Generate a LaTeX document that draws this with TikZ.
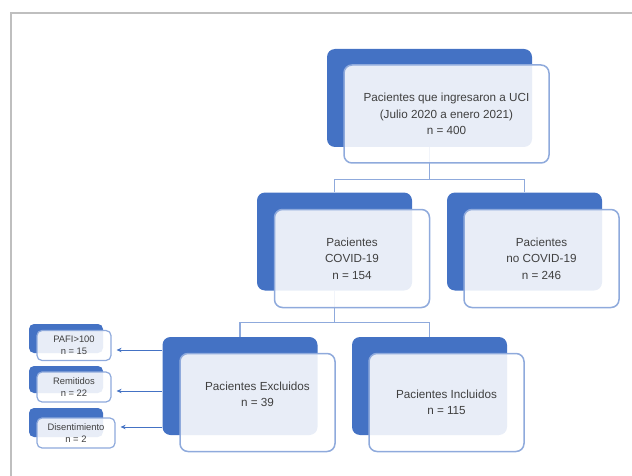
\documentclass[tikz,border=0pt]{standalone}
\usepackage{fontspec}
\setmainfont{Liberation Sans}
\usetikzlibrary{positioning, arrows.meta, calc}
\definecolor{darkblue}{HTML}{4472C4}
\definecolor{lightblue}{HTML}{8FAADC}
\definecolor{framegray}{HTML}{BFBFBF}
\definecolor{textgray}{HTML}{404040}

\begin{document}
\begin{tikzpicture}[
        x=1pt, y=-1pt,
        back/.style={rectangle, rounded corners=8pt, fill=darkblue, minimum width=155pt, minimum height=98pt, inner sep=0pt},
        front/.style={rectangle, rounded corners=8pt, draw=lightblue, line width=1.5pt, fill=white, fill opacity=0.88, text opacity=1, text=textgray, align=center, minimum width=155pt, minimum height=98pt, font=\fontsize{11.7}{16.5}\selectfont},
        smallback/.style={back, rounded corners=5pt, minimum width=74pt, minimum height=29pt},
        smallfront/.style={front, rounded corners=5pt, line width=1.2pt, minimum width=74pt, minimum height=30pt, inner sep=1pt, font=\fontsize{9.4}{12.5}\selectfont},
        conn/.style={draw=lightblue, line width=1.3pt},
        arrow/.style={-{Stealth[length=5pt, width=4.5pt]}, draw=darkblue, line width=1pt, shorten >=5pt}
    ]

    \useasboundingbox (0,0) rectangle (632,476);
    \draw[framegray, line width=2pt] (632,13) -- (11,13) -- (11,476);

    % Back boxes
    \node [back, minimum width=205pt] (topb) at (429.5,98) {};
    \node [back] (covidb) at (334.5,241.5) {};
    \node [back] (nocovidb) at (524.5,241.5) {};
    \node [back] (exclb) at (240,386) {};
    \node [back] (inclb) at (429.5,386) {};
    \node [smallback] (pafib) at (66,338.5) {};
    \node [smallback, minimum height=27pt] (remb) at (66,379.5) {};
    \node [smallback] (disb) at (66,422.5) {};

    % Connectors
    \draw[conn] (topb.south) -- ++(0,32) coordinate (split1) -| (covidb.north);
    \draw[conn] (split1) -| (nocovidb.north);
    \draw[conn] (covidb.south) -- ++(0,32) coordinate (split2) -| (exclb.north);
    \draw[conn] (split2) -| (inclb.north);

    % Front boxes
    \node [front, minimum width=205pt] (topf) at ([xshift=17pt, yshift=-16pt]topb.center) {Pacientes que ingresaron a UCI\\(Julio 2020 a enero 2021)\\n = 400};
    \node [front] (covidf) at ([xshift=17.5pt, yshift=-17pt]covidb.center) {Pacientes\\COVID-19\\n = 154};
    \node [front] (nocovidf) at ([xshift=17pt, yshift=-17pt]nocovidb.center) {Pacientes\\no COVID-19\\n = 246};
    \node [front] (exclf) at ([xshift=17.5pt, yshift=-16.5pt]exclb.center) {Pacientes Excluidos\\n = 39\\ \mbox{}};
    \node [front] (inclf) at ([xshift=17pt, yshift=-16.5pt]inclb.center) {Pacientes Incluidos\\n = 115};
    \node [smallfront] (pafif) at ([xshift=8pt, yshift=-7pt]pafib.center) {PAFI>100\\n = 15};
    \node [smallfront] (remf) at ([xshift=8pt, yshift=-7.5pt]remb.center) {Remitidos\\n = 22};
    \node [smallfront, minimum width=78pt] (disf) at ([xshift=10pt, yshift=-10.5pt]disb.center) {Disentimiento\\n = 2};

    % Arrows
    \draw[arrow] ($(exclb.west |- pafif.east)+(0,4.5)$) -- ($(pafif.east)+(0,4.5)$);
    \draw[arrow] ($(exclb.west |- remf.east)+(0,4)$) -- ($(remf.east)+(0,4)$);
    \draw[arrow] ($(exclb.west |- disf.east)+(0,-6)$) -- ($(disf.east)+(0,-6)$);

\end{tikzpicture}
\end{document}
